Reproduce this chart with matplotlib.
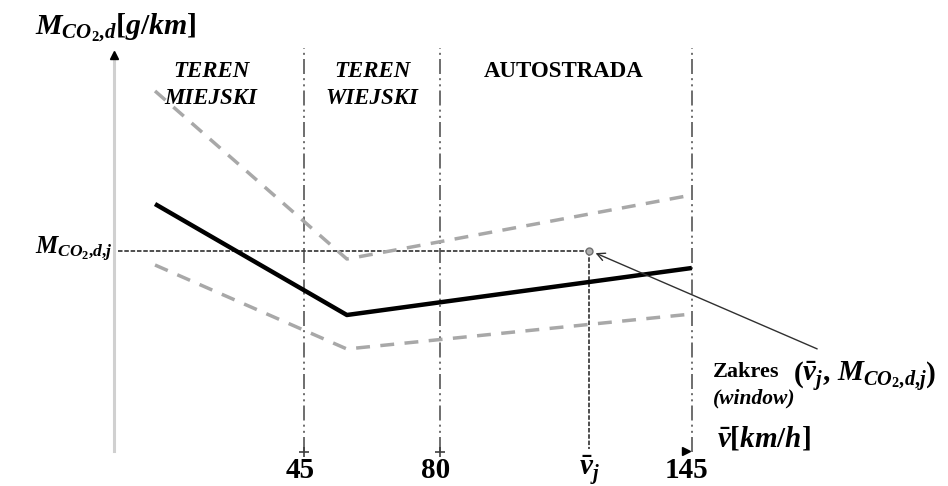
import matplotlib.pyplot as plt

plt.rcParams['mathtext.fontset'] = 'custom'
plt.rcParams['mathtext.rm'] = 'Liberation Serif:bold'
plt.rcParams['mathtext.it'] = 'Liberation Serif:italic:bold'
plt.rcParams['mathtext.bf'] = 'Liberation Serif:bold'

# schematic emission curves (speed km/h -> CO2 g/km)
speed_nodes = [6.5, 56, 145]
co2_mean = [124, 68.5, 92]
co2_upper = [180.5, 96.5, 128.5]
co2_lower = [93.5, 51.5, 69]

zone_bounds = [45, 80, 145]
zone_labels = ['TEREN\nMIEJSKI', 'TEREN\nWIEJSKI', 'AUTOSTRADA']
zone_centers = [21, 62.5, 112]
zone_italic = [True, True, False]

v_j = 118.5
m_j = 100.5
tick_labels = ['45', '80', r'$\bar{v}_j$', '145']

fig = plt.figure(figsize=(9.48, 4.86), dpi=100)
ax = fig.add_axes([0, 0, 1, 1])
ax.set_xlim(-33.5, 211.1)
ax.set_ylim(-17, 226)
ax.axis('off')

serif = 'Liberation Serif'
axis_x = -4
top = 202

# y axis
ax.plot([axis_x, axis_x], [0.5, 197], color='#d0d0d0', lw=2.2, zorder=1)
ax.plot([axis_x], [198.5], marker='^', color='black', ms=6, zorder=3)

# zone boundaries
for b in zone_bounds:
    ax.plot([b, b], [0, top], color='#555555', lw=1.2,
            dashes=(9, 2.5, 1.2, 2.5, 1.2, 2.5), zorder=2)
for b in zone_bounds[:2]:
    ax.plot([b], [0], marker='+', color='#404040', ms=7, mew=1.2)
ax.plot([zone_bounds[-1] - 1.5], [0.5], marker='>', color='black', ms=6)

# curves
ax.plot(speed_nodes, co2_upper, color='#a8a8a8', lw=2.5, dashes=(4, 3), zorder=3)
ax.plot(speed_nodes, co2_lower, color='#a8a8a8', lw=2.5, dashes=(4, 3), zorder=3)
ax.plot(speed_nodes, co2_mean, color='black', lw=3.2, solid_capstyle='butt', zorder=4)

# window point
ax.plot([axis_x + 1, v_j], [m_j, m_j], color='#404040', lw=1.3, dashes=(2.5, 1), zorder=2)
ax.plot([v_j, v_j], [m_j, 1.5], color='#404040', lw=1.3, dashes=(2.5, 1), zorder=2)
ax.plot([v_j], [m_j], marker='o', ms=5, mfc='#b0b0b0', mec='#707070', zorder=5)
ax.annotate('', xy=(v_j + 1, m_j - 0.5), xytext=(178, 51),
            arrowprops=dict(arrowstyle='->', color='#303030', lw=1.0,
                            mutation_scale=14), zorder=5)

# zone titles
for lab, xc, it in zip(zone_labels, zone_centers, zone_italic):
    ax.text(xc, 195.5, lab, family=serif, weight='bold',
            style='italic' if it else 'normal', fontsize=16.5,
            ha='center', va='top', linespacing=1.35)

# axis labels
ax.text(-24.5, 212, r'$M_{CO_2{,}d}[g/km]$', fontsize=21.5, ha='left', va='center')
ax.text(-24.5, 101.5, r'$M_{CO_2{,}d{,}j}$', fontsize=18, ha='left', va='center')
ax.text(151.5, 7, r'$\bar{v}[km/h]$', fontsize=21, ha='left', va='center')

# ticks
tick_pos = [zone_bounds[0] - 1, zone_bounds[1] - 1, v_j, zone_bounds[2] - 1.5]
for pos, lab in zip(tick_pos, tick_labels):
    ax.text(pos, -9, lab, family=serif, weight='bold', fontsize=21,
            ha='center', va='center')

# window text
ax.text(150.5, 40, 'Zakres', family=serif, weight='bold', fontsize=16,
        ha='left', va='center')
ax.text(150.5, 27, '(window)', family=serif, weight='bold', style='italic',
        fontsize=15.5, ha='left', va='center')
ax.text(171, 38, r'$\left(\bar{v}_j{,}\ M_{CO_2{,}d{,}j}\right)$', fontsize=21,
        ha='left', va='center')

fig.savefig('out.png', dpi=100)
